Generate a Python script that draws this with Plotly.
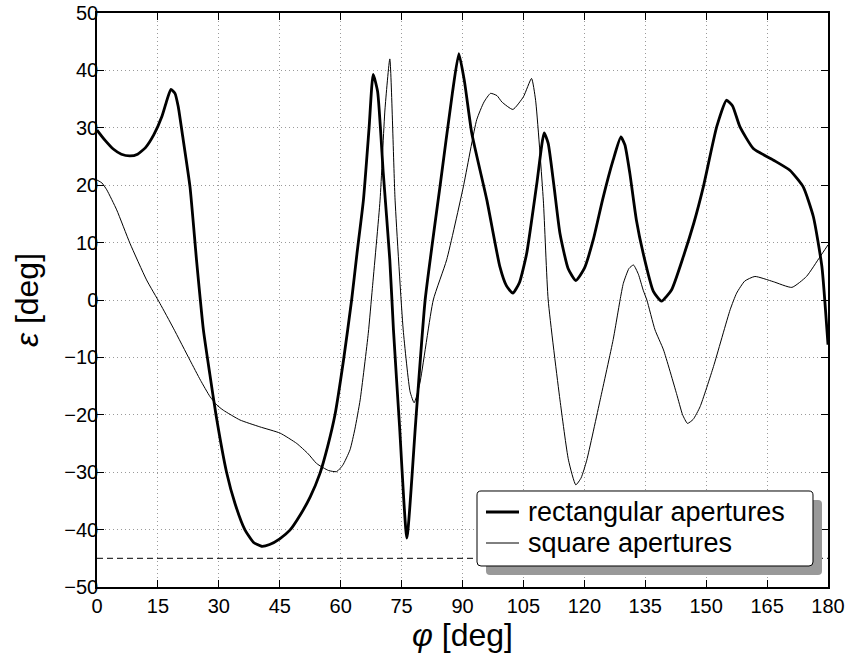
import plotly.graph_objects as go

# ---------------- data ----------------
rect_x = [0, 2, 4, 6, 8.1, 10, 12, 14, 16, 17.3, 18.2, 19.2, 20.0, 21, 22.9, 24.5, 26.2, 27.8,
          29.3, 31.9, 34, 36.4, 38.5, 40.5, 42.5, 45, 47.5, 50, 52.5, 54.9, 56.8, 58.6, 60.7,
          62.7, 64, 65.6, 67, 68.0, 69.1, 70.5, 72.1, 73.0, 74.5, 76.3, 78.5, 80.8, 84.5, 87.5,
          89.1, 90.5, 92.3, 96.0, 99.2, 100.8, 102.4, 104, 105.8, 108.3, 110.1, 111.1, 112.5,
          114.0, 116, 117.9, 120, 122.2, 124.5, 127.1, 129.0, 130, 131.2, 132.8, 134.5, 137,
          139.0, 141.5, 144.4, 147, 149.3, 152.6, 155.0, 156.5, 158.3, 161.6, 166.5, 170.6,
          173.9, 176.4, 178.5, 180]
rect_y = [29.6, 27.8, 26.3, 25.4, 25.1, 25.4, 26.6, 28.8, 32.0, 35.0, 36.7, 36.0, 33.7, 29, 19.7,
          7, -5.2, -13, -20, -30, -35.5, -40, -42.2, -42.9, -42.6, -41.6, -40.1, -37.5, -34.3,
          -30.2, -25.5, -20, -10.5, 0, 8, 17.4, 30, 39.3, 36.3, 22, 7, -5.2, -22, -41.5, -21,
          0, 20, 36, 42.9, 38, 29.0, 17.4, 5.8, 2.5, 1.2, 3, 8.1, 20.3, 29.1, 27.3, 20, 11.6, 5.5,
          3.4, 5.5, 10.5, 17.5, 24.4, 28.4, 27, 22.1, 14, 8.1, 1.5, -0.2, 1.8, 7.6, 13.5, 19.7,
          30.2, 34.8, 33.8, 30.2, 26.4, 24.4, 22.6, 19.7, 14.5, 5.8, -7.8]

sq_x = [0, 1.2, 2.4, 4.85, 8.1, 12.2, 15.5, 18.8, 22.9, 25.5, 27.8, 29.5, 31.1, 35.2, 40.1, 45.1,
        49.2, 52, 54.1, 57, 59.0, 60.5, 62.3, 63.5, 64.8, 66.8, 67.8, 69.7, 70.9, 72.1, 73.4,
        75.4, 77.1, 78.1, 79.5, 82.8, 86.1, 90.2, 93.5, 95.3, 96.9, 98.5, 99.7, 102.4, 105.0,
        107.0, 108.0, 109.9, 111.1, 114.0, 116.1, 117.9, 119.2, 120.6, 123.9, 127.1, 128.8,
        129.6, 131, 132.1, 133.3, 134.5, 135.4, 137.4, 139.5, 142.7, 144.2, 145.4, 146.8,
        148.5, 151.8, 155.9, 157.5, 159.5, 162.0, 166.5, 171.1, 174.7, 178.0, 180]
sq_y = [20.9, 20.4, 19.2, 15.7, 9.9, 3.5, -0.6, -4.9, -10.5, -14, -16.8, -18.3, -19.2, -20.9,
        -22.1, -23.2, -25.0, -26.8, -28.5, -29.7, -29.9, -28.8, -26.1, -22.5, -17.4, -5.8, 2,
        17.4, 33.1, 42.0, 17.4, -5.2, -16.0, -17.9, -14.5, 0, 7.0, 19.7, 31.4, 34.5, 36.0, 35.6,
        34.5, 33.2, 35.4, 38.6, 34.8, 17.4, 0, -17.4, -27.9, -32.2, -31, -27.9, -17.4, -6.9, 0,
        2.9, 5.5, 6.1, 4.5, 1.7, 0, -5.2, -8.7, -16.3, -20, -21.5, -20.8, -18.6, -11.6, -1.7,
        1.2, 3.3, 4.1, 3.2, 2.2, 4.1, 7.5, 9.6]

ref_x = [0, 180]
ref_y = [-45, -45]

x_ticks = list(range(0, 181, 15))
y_ticks = list(range(-50, 51, 10))

series_names = ["rectangular apertures", "square apertures"]
series_widths = [2.8, 1.0]

FONT = "Liberation Sans, Arial, Helvetica, sans-serif"

fig = go.Figure()
fig.add_trace(go.Scatter(x=ref_x, y=ref_y, mode="lines", showlegend=False,
                         line=dict(color="black", width=1, dash="6px,4px"), hoverinfo="skip"))
fig.add_trace(go.Scatter(x=rect_x, y=rect_y, mode="lines", name=series_names[0],
                         line=dict(color="black", width=series_widths[0], shape="spline",
                                   smoothing=0.5)))
fig.add_trace(go.Scatter(x=sq_x, y=sq_y, mode="lines", name=series_names[1],
                         line=dict(color="black", width=series_widths[1], shape="spline",
                                   smoothing=0.5)))

# plot area on screen: x 97..828, y 13..587 (body margin removed via post_script)
W, H = 851, 662
L, R, T, B = 97, 23, 13, 75
pw, ph = W - L - R, H - T - B


def px2paper(px, py):
    return (px - L) / pw, (H - B - py) / ph


def rounded_rect(x0, y0, x1, y1, r=4):
    def P(x, y):
        u, v = px2paper(x, y)
        return f"{u:.5f},{v:.5f}"
    return (f"M {P(x0 + r, y0)} L {P(x1 - r, y0)} Q {P(x1, y0)} {P(x1, y0 + r)} "
            f"L {P(x1, y1 - r)} Q {P(x1, y1)} {P(x1 - r, y1)} "
            f"L {P(x0 + r, y1)} Q {P(x0, y1)} {P(x0, y1 - r)} "
            f"L {P(x0, y0 + r)} Q {P(x0, y0)} {P(x0 + r, y0)} Z")


# legend (drawn as box + sample lines + text)
fig.add_shape(type="path", path=rounded_rect(486, 500, 822, 575), xref="paper", yref="paper",
              layer="above", fillcolor="#999999", line=dict(width=0))
fig.add_shape(type="path", path=rounded_rect(477, 491, 813, 566), xref="paper", yref="paper",
              layer="above", fillcolor="white", line=dict(color="black", width=1))
row_py = [512, 543]
for name, wdt, py in zip(series_names, series_widths, row_py):
    u0, v = px2paper(486, py)
    u1, _ = px2paper(519, py)
    fig.add_shape(type="line", x0=u0, x1=u1, y0=v, y1=v, xref="paper", yref="paper",
                  layer="above", line=dict(color="black", width=wdt))
    ut, vt = px2paper(526, py)
    fig.add_annotation(x=ut, y=vt, xref="paper", yref="paper", text=name, showarrow=False,
                       xanchor="left", yanchor="middle",
                       font=dict(family=FONT, size=27, color="black"))

axis_common = dict(
    showline=True, linecolor="black", linewidth=1.5, mirror="ticks",
    ticks="inside", ticklen=7, tickcolor="black", tickwidth=1,
    showgrid=True, gridcolor="#9a9a9a", griddash="1px,3px", gridwidth=1,
    zeroline=False, automargin=False, ticklabeloverflow="allow",
    tickfont=dict(family=FONT, size=20, color="black"),
)

fig.update_layout(
    width=W, height=H,
    margin=dict(l=L, r=R, t=T, b=B),
    paper_bgcolor="white", plot_bgcolor="white",
    font=dict(family=FONT, color="black"),
    showlegend=False,
    xaxis=dict(range=[0, 180], tickvals=x_ticks, ticktext=[str(v) for v in x_ticks],
               title=dict(text="<i>φ</i> [deg]", font=dict(family=FONT, size=32), standoff=8),
               **axis_common),
    yaxis=dict(range=[-50, 50], tickvals=y_ticks,
               ticktext=[str(v).replace("-", "−") for v in y_ticks],
               ticklabelstandoff=-7,
               title=dict(text="<i>ε</i> [deg]", font=dict(family=FONT, size=32), standoff=16),
               **axis_common),
)

fig.write_html("out.html", config={"displayModeBar": False},
               post_script="document.body.style.margin='0';document.body.style.overflow='hidden';")
